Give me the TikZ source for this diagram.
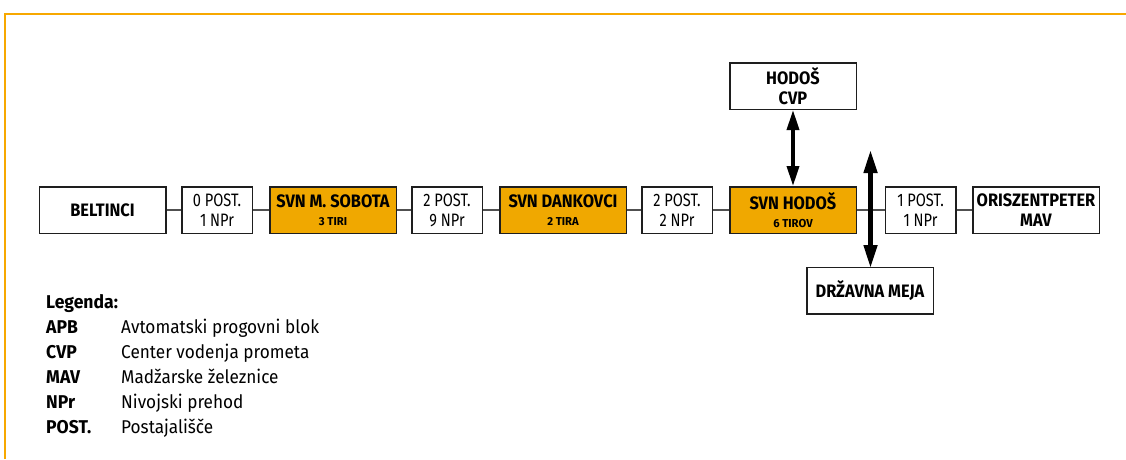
\documentclass[tikz,border=0pt]{standalone}
\usepackage{fontspec}
\setmainfont{Fira Sans}[FakeStretch=0.86]
\newfontfamily\boxreg{Fira Sans}[FakeStretch=0.81]
\newfontfamily\boxbf{Fira Sans}[FakeStretch=0.91]
\newfontfamily\legreg{Fira Sans}[FakeStretch=0.93]
\newfontfamily\legbf{Fira Sans}[FakeStretch=0.95]
\newfontfamily\subbf{Fira Sans}[FakeStretch=0.98]
\usetikzlibrary{arrows.meta}
\definecolor{frameor}{RGB}{247,168,0}
\definecolor{boxor}{RGB}{240,168,0}
\definecolor{conngray}{RGB}{80,80,80}
\definecolor{boxline}{RGB}{30,30,30}
\newcommand{\subtxt}[1]{{\subbf\bfseries\fontsize{11.5}{13}\selectfont #1}}
\tikzset{
  box/.style={draw=boxline, line width=1.5pt, minimum height=46.5pt, inner sep=0pt,
    align=center, font=\boxreg\fontsize{18}{20}\selectfont},
  stn/.style={box, minimum width=126.5pt, font=\boxbf\bfseries\fontsize{18}{20}\selectfont},
  svn/.style={stn, fill=boxor},
  post/.style={box, minimum width=70.5pt},
  conn/.style={draw=conngray, line width=1.2pt},
  dblarrow/.style={draw=black, line width=3.5pt,
    {Triangle[length=20pt,width=12pt]}-{Triangle[length=20pt,width=12pt]}},
  bigarrow/.style={draw=black, line width=4.5pt,
    {Triangle[length=23pt,width=13pt]}-{Triangle[length=23pt,width=13pt]}},
  legkey/.style={anchor=base west, inner sep=0pt, font=\legbf\bfseries\fontsize{18.5}{20}\selectfont},
  legval/.style={anchor=base west, inner sep=0pt, font=\legreg\fontsize{18.5}{20}\selectfont},
  frame/.style={draw=frameor, line width=1.5pt}
}
\begin{document}
\begin{tikzpicture}[x=1pt,y=-1pt]
\useasboundingbox (0,0) rectangle (1126,459);
% frame
\draw[frame] (5,459) -- (5,14) -- (1126,14);

% main line
\node[stn]  (beltinci) at (102.5,210) {BELTINCI};
\node[post] (p0)       at (217,210)   {0 POST.\\1 NPr};
\node[svn]  (msobota)  at (333,210)   {SVN M. SOBOTA\\[-2.4pt]\subtxt{3 TIRI}};
\node[post] (p2a)      at (447,210)   {2 POST.\\9 NPr};
\node[svn]  (dankovci) at (563,210)   {SVN DANKOVCI\\[-2.4pt]\subtxt{2 TIRA}};
\node[post] (p2b)      at (677,210)   {2 POST.\\2 NPr};
\node[svn]  (hodos)    at (793,210)   {SVN HODOŠ\\[-2.4pt]\subtxt{6 TIROV}};
\node[post] (p1)       at (920.5,210) {1 POST.\\1 NPr};
\node[stn]  (oris)     at (1036,210)  {ORISZENTPETER\\MAV};

\node[stn]  (cvp)      at (793,86)    {HODOŠ\\CVP};
\node[stn]  (meja)     at (870,290.5) {DRŽAVNA MEJA};

\coordinate (bordertop) at (870.5,150);

% connectors
\draw[conn] (beltinci.east) -- (p0.west);
\draw[conn] (p0.east) -- (msobota.west);
\draw[conn] (msobota.east) -- (p2a.west);
\draw[conn] (p2a.east) -- (dankovci.west);
\draw[conn] (dankovci.east) -- (p2b.west);
\draw[conn] (p2b.east) -- (hodos.west);
\draw[conn] (hodos.east) -- (p1.west);
\draw[conn] (p1.east) -- (oris.west);

% arrows
\draw[dblarrow] (cvp.south) -- (hodos.north);
\draw[bigarrow] (bordertop) -- ([xshift=0.5pt,yshift=-1.5pt]meja.north);

% legend
\node[legkey] (leg)   at (46,308) {Legenda:};
\node[legkey] (kapb)  at (46,333) {APB};
\node[legval] (vapb)  at (121,333) {Avtomatski progovni blok};
\node[legkey] (kcvp)  at (46,358) {CVP};
\node[legval] (vcvp)  at (121,358) {Center vodenja prometa};
\node[legkey] (kmav)  at (46,383) {MAV};
\node[legval] (vmav)  at (121,383) {Madžarske železnice};
\node[legkey] (knpr)  at (46,408) {NPr};
\node[legval] (vnpr)  at (121,408) {Nivojski prehod};
\node[legkey] (kpost) at (46,433) {POST.};
\node[legval] (vpost) at (121,433) {Postajališče};
\end{tikzpicture}
\end{document}
